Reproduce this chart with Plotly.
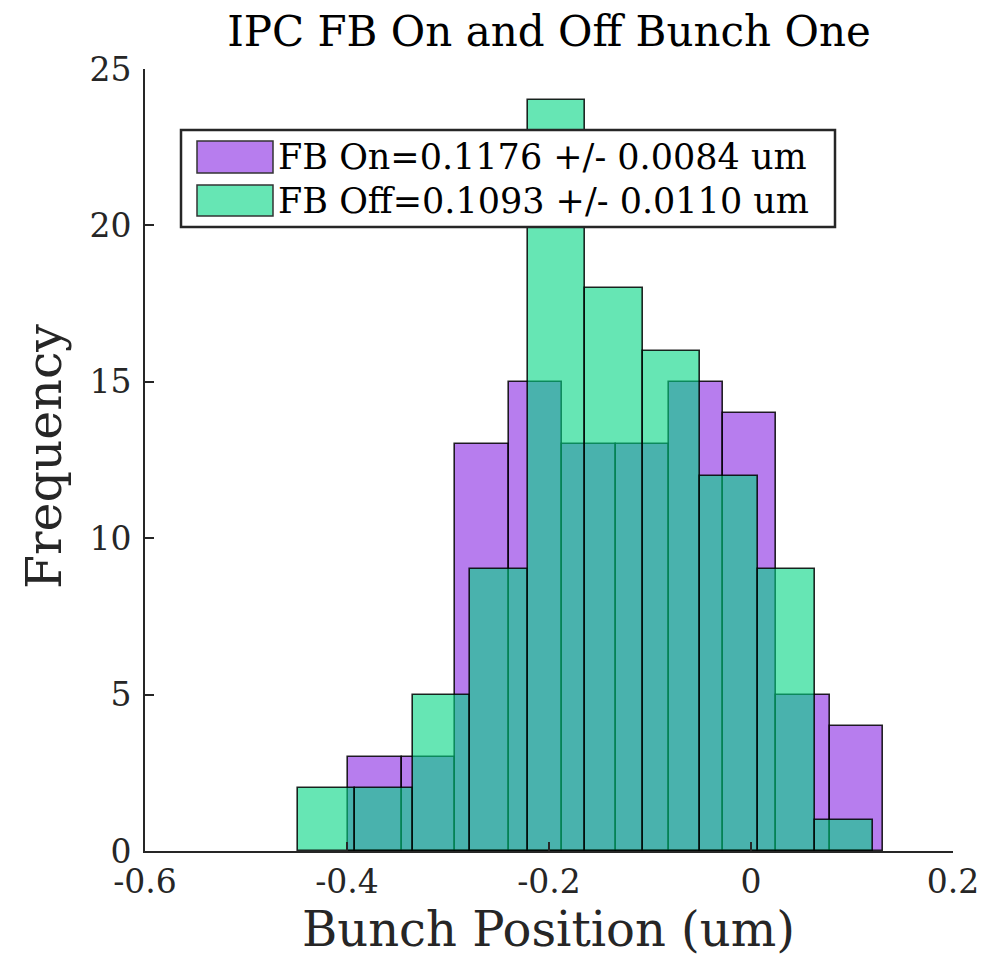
import numpy as np
import plotly.graph_objects as go

# Data
on_edges = [-0.399, -0.346, -0.293, -0.240, -0.187, -0.134, -0.081, -0.028, 0.025, 0.078, 0.131]
on_counts = [3, 3, 13, 15, 13, 13, 15, 14, 5, 4]
off_edges = [-0.4485, -0.3916, -0.3347, -0.2778, -0.2209, -0.1640, -0.1071, -0.0502, 0.0067, 0.0636, 0.1205]
off_counts = [2, 2, 5, 9, 24, 18, 16, 12, 9, 1]
on_label = "FB On=0.1176 +/- 0.0084 um"
off_label = "FB Off=0.1093 +/- 0.0110 um"
x_ticks = [-0.6, -0.4, -0.2, 0, 0.2]
x_ticktext = ["-0.6", "-0.4", "-0.2", "0", "0.2"]
y_ticks = [0, 5, 10, 15, 20, 25]

FONT = "DejaVu Serif"
PURPLE = "rgba(135,38,227,0.6)"
GREEN = "rgba(0,213,130,0.6)"
EDGE = "rgba(0,0,0,0.85)"


def centers_widths(edges):
    e = np.asarray(edges)
    return (e[:-1] + e[1:]) / 2, np.diff(e)


fig = go.Figure()
for edges, counts, col, name in [(on_edges, on_counts, PURPLE, on_label),
                                 (off_edges, off_counts, GREEN, off_label)]:
    c, w = centers_widths(edges)
    fig.add_trace(go.Bar(x=c, y=counts, width=w, name=name,
                         marker=dict(color=col, line=dict(color=EDGE, width=1.6)),
                         showlegend=False))

axis_common = dict(showline=True, linecolor="#262626", linewidth=2, ticks="inside",
                   ticklen=9, tickwidth=2, tickcolor="#262626", showgrid=False,
                   zeroline=False, mirror=False, ticklabeloverflow="allow", automargin=False,
                   tickfont=dict(family=FONT, size=33, color="#262626"))
fig.update_xaxes(range=[-0.6, 0.2], tickvals=x_ticks, ticktext=x_ticktext, **axis_common)
fig.update_yaxes(range=[0, 25], tickvals=y_ticks, ticklabelstandoff=5, **axis_common)

# page offset (body margin) and figure geometry
OFF = 8
W, H = 970, 950
ml, mr, mt, mb = 137, 25, 61, 107
pw, ph = W - ml - mr, H - mt - mb


def px(xs):
    return (xs - OFF - ml) / pw


def py(ys):
    return (H - mb - (ys - OFF)) / ph


shapes = []
annotations = []
L, R, T, B = 181, 835, 130, 227
shapes.append(dict(type="rect", xref="paper", yref="paper", x0=px(L), x1=px(R), y0=py(B), y1=py(T),
                   line=dict(color="#262626", width=2.5), fillcolor="white", layer="above"))
for (yt, yb), col, lab in [((141, 173), PURPLE, on_label), ((185, 216), GREEN, off_label)]:
    shapes.append(dict(type="rect", xref="paper", yref="paper", x0=px(197), x1=px(273),
                       y0=py(yb), y1=py(yt), line=dict(color="#333333", width=1.5),
                       fillcolor=col, layer="above"))
    annotations.append(dict(text=lab, xref="paper", yref="paper", x=px(276), y=py((yt + yb) / 2),
                            xanchor="left", yanchor="middle", showarrow=False,
                            font=dict(family=FONT, size=35, color="black")))

annotations.append(dict(text="Frequency", xref="paper", yref="paper", x=px(44), y=py(457),
                        xanchor="center", yanchor="middle", textangle=-90, showarrow=False,
                        font=dict(family=FONT, size=49, color="#262626")))
annotations.append(dict(text="Bunch Position (um)", xref="paper", yref="paper", x=px(548), y=py(929),
                        xanchor="center", yanchor="middle", showarrow=False,
                        font=dict(family=FONT, size=48, color="#262626")))

fig.update_layout(
    width=W, height=H, barmode="overlay", plot_bgcolor="white", paper_bgcolor="white",
    margin=dict(l=ml, r=mr, t=mt, b=mb, autoexpand=False),
    title=dict(text="IPC FB On and Off Bunch One", x=0.5, xref="paper", y=1 - (31 - OFF) / H,
               yref="container", xanchor="center", yanchor="middle", automargin=False,
               font=dict(family=FONT, size=42, color="black")),
    shapes=shapes, annotations=annotations, bargap=0,
)

fig.write_html("out.html")
